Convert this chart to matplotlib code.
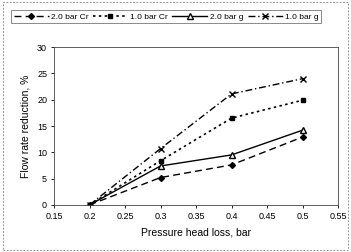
import matplotlib.pyplot as plt
from matplotlib.patches import Rectangle

plt.rcParams['font.family'] = ['Liberation Sans', 'DejaVu Sans']

# pressure head loss, bar
head_loss = [0.2, 0.3, 0.4, 0.5]
# flow rate reduction, %
cr_20 = [0, 5.2, 7.6, 12.9]
cr_10 = [0, 8.4, 16.5, 19.9]
g_20 = [0, 7.4, 9.5, 14.2]
g_10 = [0, 10.7, 21.1, 24.0]
labels = ['2.0 bar Cr', '1.0 bar Cr', '2.0 bar g', '1.0 bar g']

fig = plt.figure(figsize=(3.51, 2.52), dpi=100)
ax = fig.add_axes([0.154, 0.187, 0.809, 0.626])

ax.plot(head_loss, cr_20, color='black', ls=(0, (5, 3)), lw=1.0,
        marker='D', ms=3, label=labels[0])
ax.plot(head_loss, cr_10, color='black', ls=(0, (1.5, 2)), lw=1.2,
        marker='s', ms=3.5, label=labels[1])
ax.plot(head_loss, g_20, color='black', ls='-', lw=1.0,
        marker='^', ms=4, mfc='white', label=labels[2])
ax.plot(head_loss, g_10, color='black', ls=(0, (5, 2, 1, 2)), lw=1.0,
        marker='x', ms=5, mew=1.0, label=labels[3])

ax.set_xlim(0.15, 0.55)
ax.set_ylim(0, 30)
ax.set_xticks([0.15, 0.2, 0.25, 0.3, 0.35, 0.4, 0.45, 0.5, 0.55])
ax.set_xticklabels(['0.15', '0.2', '0.25', '0.3', '0.35', '0.4', '0.45', '0.5', '0.55'])
ax.set_yticks(range(0, 31, 5))
ax.tick_params(labelsize=6.5, length=2, width=0.6, direction='out', pad=3)
for s in ax.spines.values():
    s.set_linewidth(0.6)
    s.set_color('#444444')
    s.set_linestyle((0, (3, 1)))

ax.set_xlabel('Pressure head loss, bar', fontsize=7.5, labelpad=5)
ax.set_ylabel('Flow rate reduction, %', fontsize=7.5, labelpad=5)

leg = fig.legend(loc='upper left', bbox_to_anchor=(0.02, 0.975), ncol=4,
                 fontsize=6, frameon=True, fancybox=False, handlelength=4.2,
                 handletextpad=0.3, columnspacing=0.5, borderpad=0.3,
                 edgecolor='#555555')
leg.get_frame().set_linewidth(0.6)

fig.patches.append(Rectangle((0.008, 0.008), 0.984, 0.984, transform=fig.transFigure,
                             fill=False, ec='#777777', lw=0.6, ls=(0, (2, 2))))

fig.savefig('out.png', dpi=100)
